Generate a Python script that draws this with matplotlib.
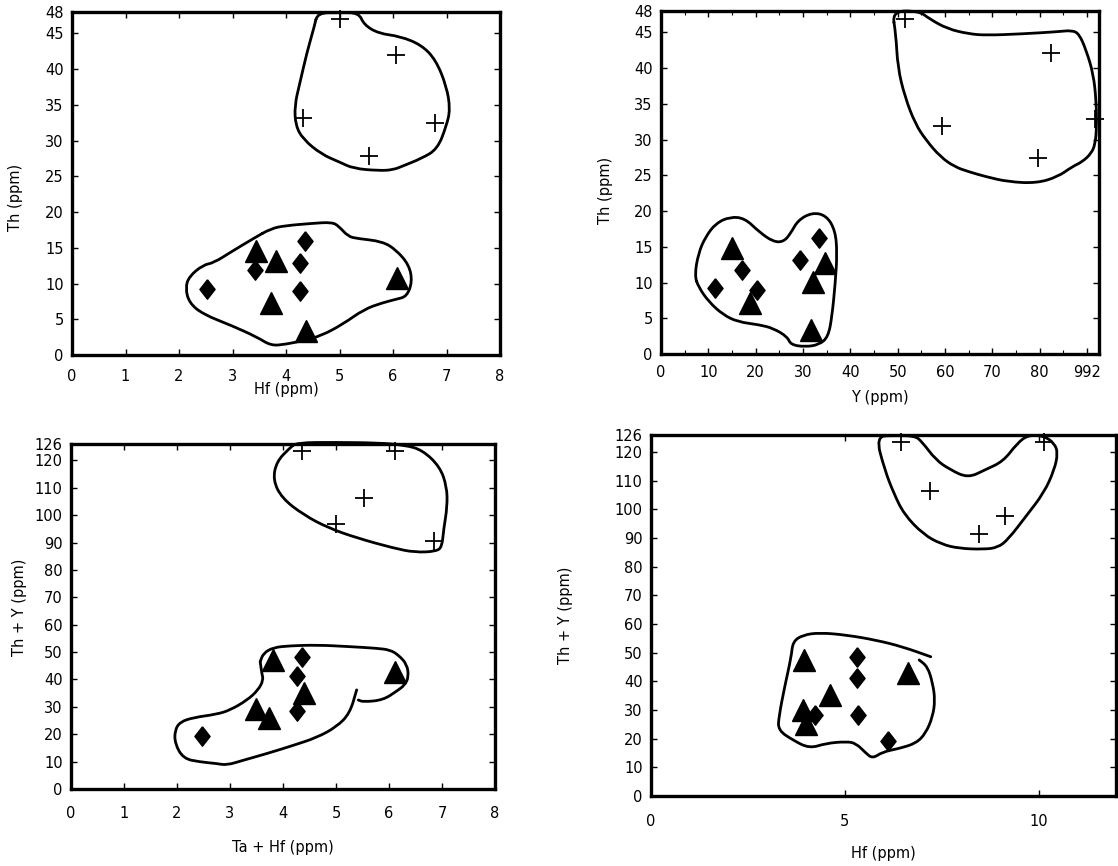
import matplotlib
matplotlib.use("Agg")
import matplotlib.pyplot as plt
from matplotlib.path import Path
from matplotlib.patches import PathPatch
import numpy as np

plt.rcParams['font.family'] = ['DejaVu Sans']

# ---------------- Panel 1: Th vs Hf ----------------
p1_plus_x = [5.0, 6.05, 4.31, 6.78, 5.56]
p1_plus_y = [47.0, 42.0, 33.2, 32.4, 27.9]
p1_tri_x = [3.44, 3.82, 3.72, 4.38, 6.08]
p1_tri_y = [14.5, 13.1, 7.3, 3.4, 10.8]
p1_dia_x = [2.52, 3.42, 4.36, 4.26, 4.26]
p1_dia_y = [9.2, 11.9, 15.9, 12.9, 8.9]
p1_up_x = [4.59, 5.0, 5.36, 5.46, 5.73, 6.13, 6.53, 6.80, 7.0, 7.07, 7.0, 6.83, 6.53, 6.20,
           6.0, 5.73, 5.26, 5.0, 4.66, 4.32, 4.18, 4.16, 4.26, 4.39, 4.53, 4.59]
p1_up_y = [47.9, 47.9, 47.9, 46.2, 45.0, 44.6, 43.4, 41.3, 37.6, 34.4, 32.1, 28.8, 27.5, 26.5,
           25.9, 25.8, 26.1, 27.0, 28.1, 30.2, 32.1, 34.9, 38.1, 42.3, 46.0, 47.9]
p1_lo_x = [3.72, 3.99, 4.46, 4.86, 4.99, 5.16, 5.33, 5.80, 6.06, 6.30, 6.36, 6.26, 6.06, 5.80,
           5.46, 5.06, 4.66, 4.32, 3.99, 3.72, 3.46, 2.99, 2.45, 2.19, 2.12, 2.19, 2.45, 2.65,
           2.99, 3.39, 3.72]
p1_lo_y = [17.7, 18.1, 18.4, 18.6, 18.0, 16.6, 16.3, 15.9, 14.7, 12.6, 10.3, 8.2, 7.8, 7.3,
           6.4, 4.3, 2.7, 2.0, 1.5, 1.3, 2.5, 4.1, 5.7, 7.3, 9.4, 11.0, 12.6, 12.9,
           14.5, 16.3, 17.7]

# ---------------- Panel 2: Th vs Y ----------------
p2_plus_x = [51.6, 82.3, 59.4, 79.6, 91.7]
p2_plus_y = [46.9, 42.1, 31.9, 27.4, 32.9]
p2_tri_x = [14.9, 18.8, 32.2, 34.6, 31.6]
p2_tri_y = [14.8, 7.1, 10.1, 12.7, 3.4]
p2_dia_x = [11.3, 17.1, 20.3, 29.3, 33.4]
p2_dia_y = [9.2, 11.8, 8.9, 13.1, 16.2]
p2_up_x = [48.8, 54.5, 56.7, 60.5, 65.0, 68.7, 76.3, 83.8, 86.8, 88.3, 89.8, 91.3, 91.9, 92.0,
           91.7, 90.9, 89.0, 86.8, 83.8, 79.3, 73.3, 68.7, 65.0, 62.0, 59.0, 56.0, 53.7, 51.5,
           50.0, 49.6, 48.8]
p2_up_y = [48.0, 48.0, 46.9, 45.5, 44.8, 44.6, 44.8, 45.1, 45.3, 44.8, 42.5, 39.2, 35.5, 31.8,
           29.4, 28.1, 26.9, 26.2, 24.8, 23.9, 24.1, 24.8, 25.5, 26.2, 27.6, 29.9, 32.2, 36.0,
           40.1, 44.8, 48.0]
p2_lo_x = [7.1, 7.9, 9.4, 11.6, 14.6, 17.7, 20.7, 23.7, 25.9, 27.4, 28.9, 31.9, 34.9, 36.8,
           37.2, 36.8, 36.1, 35.3, 33.4, 30.4, 27.4, 26.7, 23.7, 20.7, 16.2, 13.1, 10.1, 7.9, 7.1]
p2_lo_y = [11.0, 14.1, 16.4, 18.3, 19.2, 19.0, 17.1, 15.7, 15.7, 16.9, 18.7, 19.8, 19.4, 17.3,
           14.1, 9.9, 5.2, 2.4, 1.3, 1.0, 1.3, 2.4, 3.6, 4.1, 4.5, 5.5, 7.3, 9.4, 11.0]

# ---------------- Panel 3: Th+Y vs Ta+Hf ----------------
p3_plus_x = [4.36, 6.12, 5.53, 5.0, 6.84]
p3_plus_y = [123.6, 123.6, 106.2, 96.9, 90.4]
p3_tri_x = [3.81, 4.40, 3.49, 3.74, 6.11]
p3_tri_y = [47.1, 35.2, 29.1, 25.8, 42.8]
p3_dia_x = [4.35, 4.26, 4.26, 2.48]
p3_dia_y = [48.1, 41.3, 28.6, 19.4]
p3_up_x = [4.25, 5.0, 5.8, 6.3, 6.63, 6.96, 7.09, 7.10, 7.03, 7.0, 6.90, 6.49, 6.08, 5.41,
           4.86, 4.39, 3.98, 3.81, 3.88, 4.12, 4.25]
p3_up_y = [126.5, 126.6, 126.4, 125.6, 123.8, 117.7, 110.5, 103.2, 94.7, 88.6, 86.8, 86.4, 88.0,
           91.6, 95.3, 100.1, 106.2, 112.9, 119.6, 124.4, 126.5]
p3_lo_x = [3.57, 3.63, 3.82, 4.13, 4.64, 5.26, 5.77, 6.02, 6.18, 6.34, 6.37, 6.30, 6.15, 5.89,
           5.52, 5.42]
p3_lo_y = [46.5, 49.6, 51.7, 52.3, 52.6, 52.0, 51.4, 50.8, 48.9, 45.5, 41.0, 38.0, 35.8, 32.5,
           31.8, 32.5]
p3_lo2_x = [5.39, 5.26, 5.01, 4.64, 4.19, 3.69, 3.25, 2.94, 2.75, 2.43, 2.12, 1.96, 1.96, 2.06,
            2.31, 2.75, 3.0, 3.32, 3.53, 3.63, 3.60, 3.57]
p3_lo2_y = [36.2, 27.6, 22.7, 18.8, 15.9, 12.9, 10.5, 8.7, 9.3, 9.9, 11.1, 16.6, 21.5, 24.5,
            26.1, 27.3, 28.8, 32.4, 36.1, 39.8, 42.2, 46.5]

# ---------------- Panel 4: Th+Y vs Hf ----------------
p4_plus_x = [6.46, 10.14, 7.21, 9.13, 8.47]
p4_plus_y = [123.7, 123.7, 106.4, 97.7, 91.3]
p4_tri_x = [3.96, 4.62, 3.92, 4.0, 6.64]
p4_tri_y = [47.5, 35.3, 30.0, 25.3, 42.8]
p4_dia_x = [5.32, 5.32, 5.35, 6.11, 4.22]
p4_dia_y = [48.6, 41.1, 28.3, 19.3, 28.3]
p4_up_x = [5.80, 6.03, 6.26, 6.53, 7.03, 7.49, 7.95, 8.58, 8.95, 9.22, 9.68, 10.14, 10.41, 10.50,
           10.41, 10.14, 9.73, 9.45, 9.09, 8.63, 8.18, 7.72, 7.35, 6.99, 6.81, 6.3, 5.80]
p4_up_y = [125.6, 113.9, 105.8, 98.3, 91.3, 87.9, 86.4, 86.1, 86.7, 89.6, 97.7, 105.8, 113.9, 119.7,
           123.1, 125.7, 126.0, 123.1, 116.8, 113.9, 111.0, 113.9, 117.3, 123.7, 125.7, 125.8, 125.6]
p4_lo_x = [7.22, 6.49, 5.81, 5.04, 4.35, 3.92, 3.66, 3.62, 3.45, 3.30, 3.28, 3.66, 4.09, 4.52,
           5.04, 5.29, 5.55, 5.72, 5.98, 6.41, 6.84, 7.09, 7.27, 7.33, 7.27, 7.14, 6.92]
p4_lo_y = [48.6, 52.1, 54.4, 56.2, 57.0, 56.2, 53.9, 48.6, 38.2, 27.7, 23.0, 19.5, 16.6, 18.4,
           19.0, 18.4, 14.9, 13.1, 15.4, 16.6, 18.4, 21.9, 27.7, 33.5, 39.3, 45.1, 47.5]

W, H = 1118, 866
fig = plt.figure(figsize=(W / 100, H / 100), dpi=100)


def rect(l, r, t, b):
    return [l / W, (H - b) / H, (r - l) / W, (b - t) / H]


diamond = [(0, 1), (0.78, 0), (0, -1), (-0.78, 0), (0, 1)]
LW = 2.0
FS = 10.5


def outline(ax, xs, ys, closed):
    """Draw a hand-drawn style outline as a quadratic Bezier path through the traced vertices."""
    p = np.column_stack([xs, ys]).astype(float)
    verts, codes = [], []
    if closed:
        p = p[:-1]
        n = len(p)
        mids = (p + np.roll(p, -1, axis=0)) / 2
        verts.append(mids[-1]); codes.append(Path.MOVETO)
        for i in range(n):
            verts += [p[i], mids[i]]
            codes += [Path.CURVE3, Path.CURVE3]
    else:
        n = len(p)
        mids = (p[:-1] + p[1:]) / 2
        verts += [p[0], mids[0]]; codes += [Path.MOVETO, Path.LINETO]
        for i in range(1, n - 1):
            verts += [p[i], mids[i]]
            codes += [Path.CURVE3, Path.CURVE3]
        verts.append(p[-1]); codes.append(Path.LINETO)
    patch = PathPatch(Path(verts, codes), facecolor='none', edgecolor='black',
                      lw=LW, capstyle='round', joinstyle='round', clip_on=False)
    ax.add_patch(patch)


def style(ax, xlim, ylim, xticks, yticks, xpad, xticklabels=None):
    ax.set_xlim(*xlim)
    ax.set_ylim(*ylim)
    ax.set_xticks(xticks)
    if xticklabels is not None:
        ax.set_xticklabels(xticklabels)
    ax.set_yticks(yticks)
    ax.tick_params(direction='in', length=4, width=1.0, top=True, right=True,
                   labelsize=FS)
    ax.tick_params(axis='x', pad=xpad)
    ax.tick_params(axis='y', pad=6)
    for s in ax.spines.values():
        s.set_linewidth(2.4)


def points(ax, px, py, tx, ty, dx, dy):
    ax.plot(px, py, '+', color='black', markersize=13, mew=1.3, clip_on=False)
    ax.plot(tx, ty, '^', color='black', markersize=16, clip_on=False)
    ax.plot(dx, dy, marker=diamond, linestyle='none', color='black', markersize=14)


# Panel 1
ax1 = fig.add_axes(rect(72, 500, 12, 355))
outline(ax1, p1_up_x, p1_up_y, True)
outline(ax1, p1_lo_x, p1_lo_y, True)
points(ax1, p1_plus_x, p1_plus_y, p1_tri_x, p1_tri_y, p1_dia_x, p1_dia_y)
style(ax1, (0, 8), (0, 48), range(0, 9), [0, 5, 10, 15, 20, 25, 30, 35, 40, 45, 48], 10)
ax1.set_xlabel('Hf (ppm)', fontsize=FS)
ax1.xaxis.set_label_coords(0.5, -0.078)
ax1.set_ylabel('Th (ppm)', fontsize=FS)
ax1.yaxis.set_label_coords(-0.115, 0.46)

# Panel 2
ax2 = fig.add_axes(rect(661, 1099, 11, 354))
outline(ax2, p2_up_x, p2_up_y, True)
outline(ax2, p2_lo_x, p2_lo_y, True)
points(ax2, p2_plus_x, p2_plus_y, p2_tri_x, p2_tri_y, p2_dia_x, p2_dia_y)
style(ax2, (0, 92.5), (0, 48), list(range(0, 91, 10)),
      [0, 5, 10, 15, 20, 25, 30, 35, 40, 45, 48], 8,
      ['0', '10', '20', '30', '40', '50', '60', '70', '80', '992'])
ax2.set_xticks(list(range(5, 91, 10)), minor=True)
ax2.tick_params(which='minor', direction='in', length=3, width=0.8, top=True)
ax2.set_xlabel('Y (ppm)', fontsize=FS)
ax2.xaxis.set_label_coords(0.5, -0.105)
ax2.set_ylabel('Th (ppm)', fontsize=FS)
ax2.yaxis.set_label_coords(-0.11, 0.478)

# Panel 3
ax3 = fig.add_axes(rect(71, 495, 444, 789))
outline(ax3, p3_up_x, p3_up_y, True)
outline(ax3, p3_lo_x, p3_lo_y, False)
outline(ax3, p3_lo2_x, p3_lo2_y, False)
points(ax3, p3_plus_x, p3_plus_y, p3_tri_x, p3_tri_y, p3_dia_x, p3_dia_y)
style(ax3, (0, 8), (0, 126), range(0, 9), list(range(0, 121, 10)) + [126], 12)
ax3.set_xlabel('Ta + Hf (ppm)', fontsize=FS)
ax3.xaxis.set_label_coords(0.5, -0.148)
ax3.set_ylabel('Th + Y (ppm)', fontsize=FS)
ax3.yaxis.set_label_coords(-0.104, 0.528)

# Panel 4
ax4 = fig.add_axes(rect(651, 1116, 435, 796))
outline(ax4, p4_up_x, p4_up_y, True)
outline(ax4, p4_lo_x, p4_lo_y, False)
points(ax4, p4_plus_x, p4_plus_y, p4_tri_x, p4_tri_y, p4_dia_x, p4_dia_y)
style(ax4, (0, 12), (0, 126), [0, 5, 10], list(range(0, 121, 10)) + [126], 13)
ax4.set_xlabel('Hf (ppm)', fontsize=FS)
ax4.xaxis.set_label_coords(0.5, -0.139)
ax4.set_ylabel('Th + Y (ppm)', fontsize=FS)
ax4.yaxis.set_label_coords(-0.168, 0.50)

fig.savefig('out.png', dpi=100)
